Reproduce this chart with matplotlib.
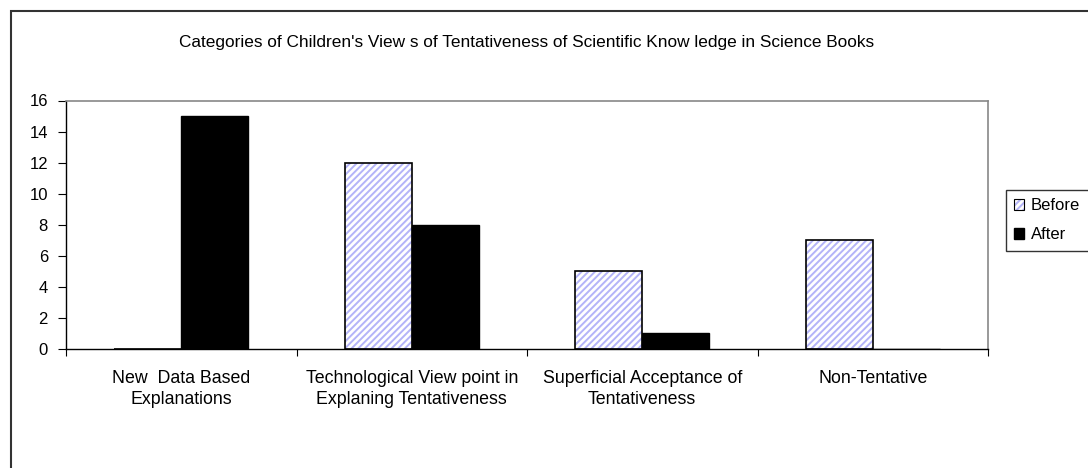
import matplotlib
matplotlib.use('Agg')
import matplotlib.pyplot as plt
from matplotlib.patches import Rectangle, Patch
from matplotlib.legend_handler import HandlerTuple

plt.rcParams['font.family'] = ['Liberation Sans', 'DejaVu Sans']
plt.rcParams['hatch.linewidth'] = 1.4

categories = ["New  Data Based\nExplanations",
              "Technological View point in\nExplaning Tentativeness",
              "Superficial Acceptance of\nTentativeness",
              "Non-Tentative"]
before = [0, 12, 5, 7]
after = [15, 8, 1, 0]
yticks = [0, 2, 4, 6, 8, 10, 12, 14, 16]
title = "Categories of Children's View s of Tentativeness of Scientific Know ledge in Science Books"

hatch_col = '#b4b4f8'
W, H = 1088, 468
fig = plt.figure(figsize=(W / 100, H / 100), dpi=100)
ax = fig.add_axes([66 / W, 1 - 349 / H, (988 - 66) / W, (349 - 100.5) / H])

# cadre extérieur du graphique
fig.patches.append(Rectangle((11 / W, -0.1), 1.2, 1 - 11 / H + 0.1,
                             transform=fig.transFigure, fill=False,
                             edgecolor='#333333', linewidth=1.5))

x = list(range(len(categories)))
bw = 0.29
xb = [i - bw / 2 for i in x]
xa = [i + bw / 2 for i in x]

# barres "Before" : hachures bleues puis contour noir
ax.bar(xb, before, width=bw, color='white', edgecolor=hatch_col,
       hatch='/////', linewidth=0)
ax.bar(xb, before, width=bw, fill=False, edgecolor='black', linewidth=1.2)
ax.bar(xa, after, width=bw, color='black', edgecolor='black', linewidth=1)

ax.set_xlim(-0.5, 3.5)
ax.set_ylim(0, 16)
ax.set_yticks(yticks)
ax.tick_params(axis='y', direction='out', length=6, labelsize=12, pad=7)

ax.set_xticks([-0.5, 0.5, 1.5, 2.5, 3.5])
ax.set_xticklabels([])
ax.tick_params(axis='x', which='major', direction='out', length=5)
ax.set_xticks(x, minor=True)
ax.set_xticklabels(categories, minor=True, fontsize=12.8, linespacing=1.35)
ax.tick_params(axis='x', which='minor', length=0, pad=15)

for s in ['top', 'right']:
    ax.spines[s].set_color('#888888')
    ax.spines[s].set_linewidth(1.2)
for s in ['left', 'bottom']:
    ax.spines[s].set_color('black')
    ax.spines[s].set_linewidth(1)

fig.text(527 / W, 1 - 42 / H, title, ha='center', va='center', fontsize=12.4)

h_before = (Patch(facecolor='white', edgecolor=hatch_col, hatch='/////', linewidth=0),
            Patch(fill=False, edgecolor='black', linewidth=0.8))
h_after = Patch(facecolor='black', edgecolor='black')
leg = fig.legend([h_before, h_after], ['Before', 'After'],
                 handler_map={tuple: HandlerTuple(ndivide=1)},
                 loc='upper left', bbox_to_anchor=(1006 / W, 1 - 190 / H),
                 frameon=True, fancybox=False, fontsize=12,
                 handlelength=0.6, handleheight=0.6, handletextpad=0.4,
                 labelspacing=0.85, borderpad=0.5, borderaxespad=0)
leg.get_frame().set_edgecolor('black')
leg.get_frame().set_linewidth(1)

fig.savefig('out.png', dpi=100)
